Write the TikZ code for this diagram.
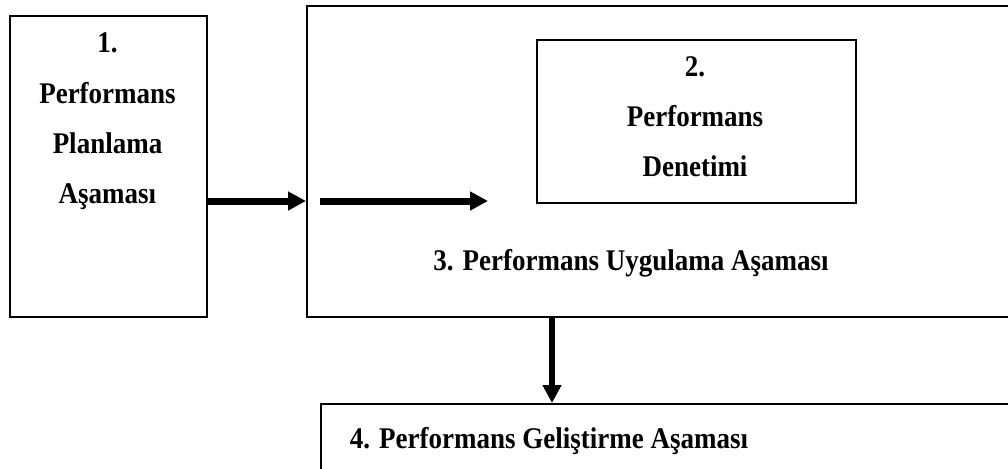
\documentclass[tikz,border=0pt]{standalone}
\usepackage{fontspec}
\setmainfont{Liberation Serif}
\usetikzlibrary{arrows.meta}
% slightly condensed bold label text
\newcommand{\cond}[1]{\scalebox{0.9}[1]{#1}}
\begin{document}
\begin{tikzpicture}[x=1pt,y=-1pt,
  stagebox/.style={draw,line width=1.8pt,rectangle,inner sep=0pt,anchor=north west},
  lbl/.style={font=\fontsize{30}{33}\selectfont\bfseries,anchor=base,inner sep=0pt},
  bigarrow/.style={line width=7pt,-{Triangle[length=18pt,width=18pt]}}]
\useasboundingbox (0,0) rectangle (1008,468);
\clip (0,0) rectangle (1008,468);
% stage boxes (the right-hand ones run past the page edge)
\node[stagebox,minimum width=197pt,minimum height=301pt] (b1) at (9,15) {};
\node[stagebox,minimum width=760pt,minimum height=311pt] (b3) at (306,5) {};
\node[stagebox,minimum width=319pt,minimum height=163pt] (b2) at (536,39) {};
\node[stagebox,minimum width=760pt,minimum height=120pt] (b4) at (320,403) {};
% labels
\node[lbl] (t1a) at (107.5,53) {\cond{1.}};
\node[lbl] (t1b) at (107.5,103) {\cond{Performans}};
\node[lbl] (t1c) at (107.5,153) {\cond{Planlama}};
\node[lbl] (t1d) at (107.5,203) {\cond{Aşaması}};
\node[lbl] (t2a) at (695,77) {\cond{2.}};
\node[lbl] (t2b) at (695,127) {\cond{Performans}};
\node[lbl] (t2c) at (695,176) {\cond{Denetimi}};
\node[lbl] (t3) at (631,270) {\cond{3. Performans Uygulama Aşaması}};
\node[lbl] (t4) at (549,448) {\cond{4. Performans Geliştirme Aşaması}};
% connectors
\coordinate (row) at (0,201);
\coordinate (a2s) at (320,201);
\coordinate (col) at (552,0);
\draw[bigarrow] (b1.east |- row) -- (b3.west |- row);
\draw[bigarrow,shorten >=48pt] (a2s) -- (b2.west |- row);
\draw[bigarrow,line width=6pt] (col |- b3.south) -- (col |- b4.north);
\end{tikzpicture}
\end{document}
